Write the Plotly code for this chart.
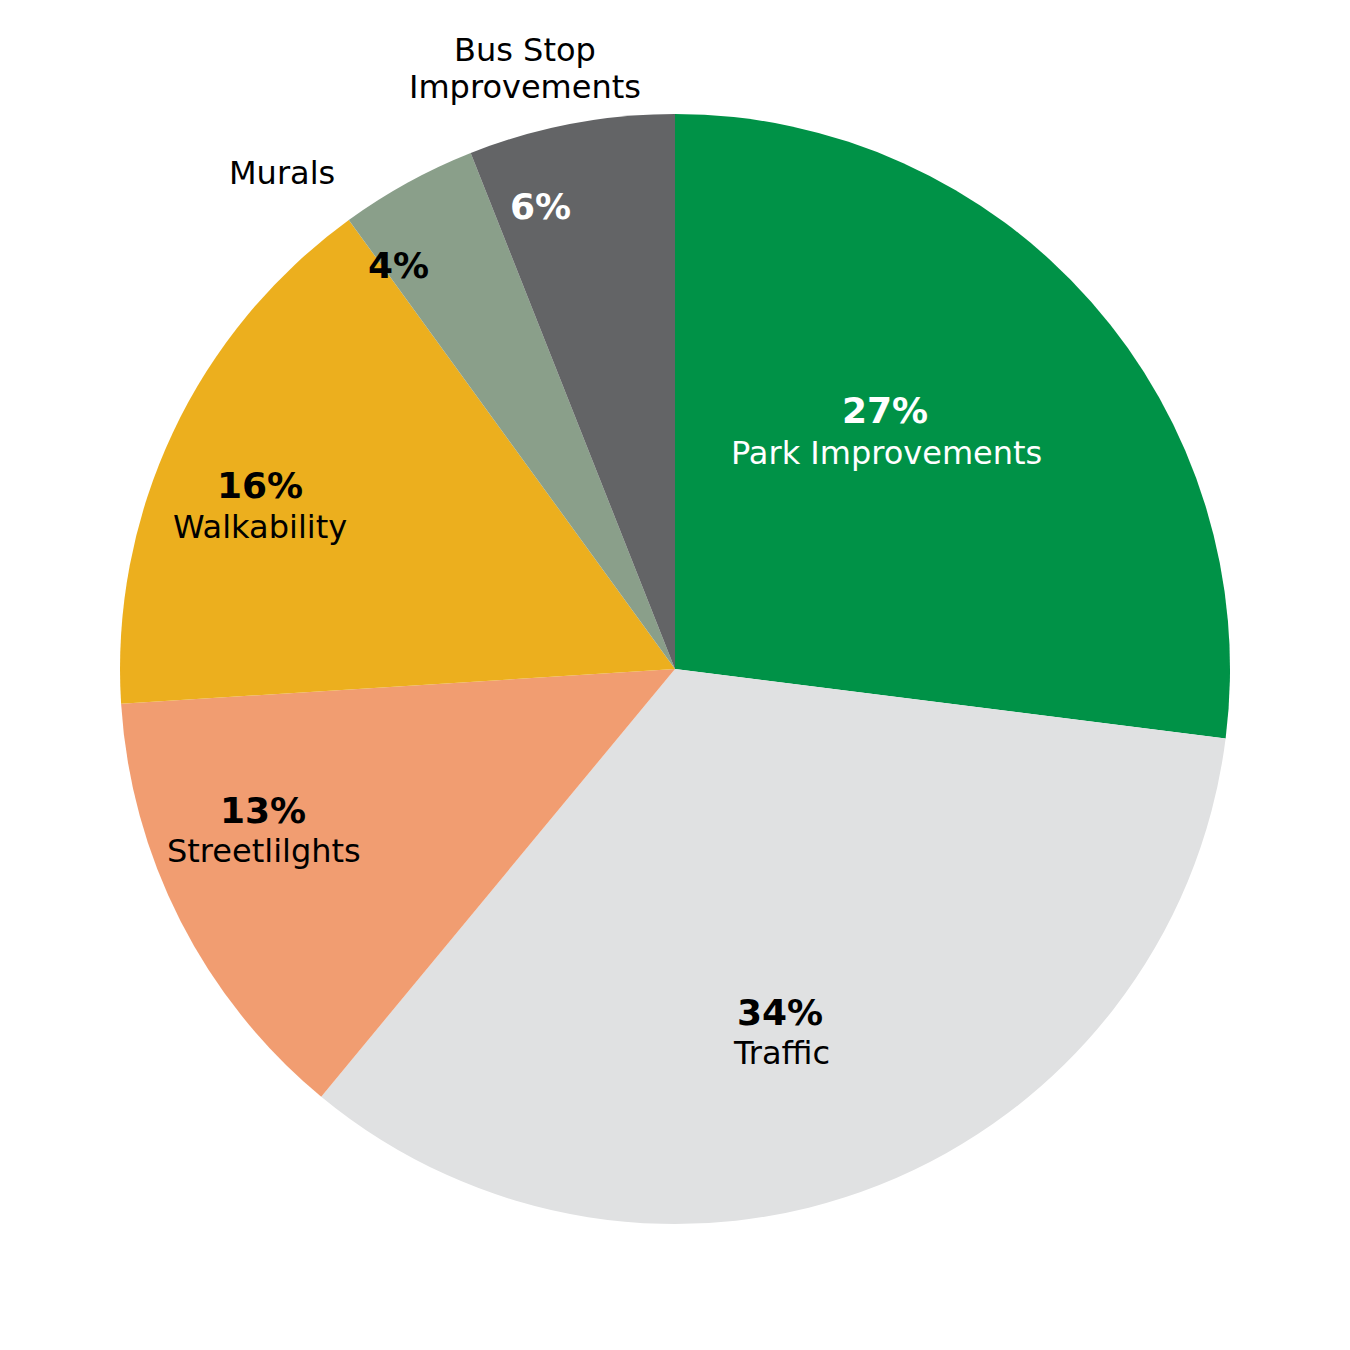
import plotly.graph_objects as go

categories = ["Park Improvements", "Traffic", "Streetlilghts", "Walkability", "Murals", "Bus Stop Improvements"]
values = [27, 34, 13, 16, 4, 6]
colors = ["#009247", "#E0E1E2", "#F19D71", "#ECAF1E", "#8A9F8A", "#636466"]

W = H = 1350
fig = go.Figure(go.Pie(
    labels=categories, values=values, sort=False, direction="clockwise", rotation=0,
    marker=dict(colors=colors, line=dict(width=0)),
    textinfo="none", hoverinfo="label+percent", showlegend=False,
    domain=dict(x=[120 / W, 1230 / W], y=[1 - 1224 / H, 1 - 114 / H]),
))

FONT = "DejaVu Sans"
# (text, px_x, px_y, size, bold, color)
labels = [
    ("27%", 885, 410, 36, True, "white"),
    ("Park Improvements", 886, 453, 32, False, "white"),
    ("34%", 780, 1012, 36, True, "black"),
    ("Traffic", 781, 1053, 32, False, "black"),
    ("13%", 263, 810, 36, True, "black"),
    ("Streetlilghts", 264, 851, 32, False, "black"),
    ("16%", 260, 485, 36, True, "black"),
    ("Walkability", 260, 527, 32, False, "black"),
    ("4%", 398, 265, 36, True, "black"),
    ("Murals", 282, 173, 32, False, "black"),
    ("6%", 540, 206, 36, True, "white"),
    ("Bus Stop", 525, 50, 32, False, "black"),
    ("Improvements", 525, 87, 32, False, "black"),
]
for t, x, y, s, b, c in labels:
    fig.add_annotation(
        text=f"<b>{t}</b>" if b else t, x=x / W, y=1 - y / H, xref="paper", yref="paper",
        xanchor="center", yanchor="middle", showarrow=False,
        font=dict(family=FONT, size=s, color=c),
    )

fig.update_layout(width=W, height=H, margin=dict(l=0, r=0, t=0, b=0),
                  paper_bgcolor="white", plot_bgcolor="white")
fig.write_html("out.html")
